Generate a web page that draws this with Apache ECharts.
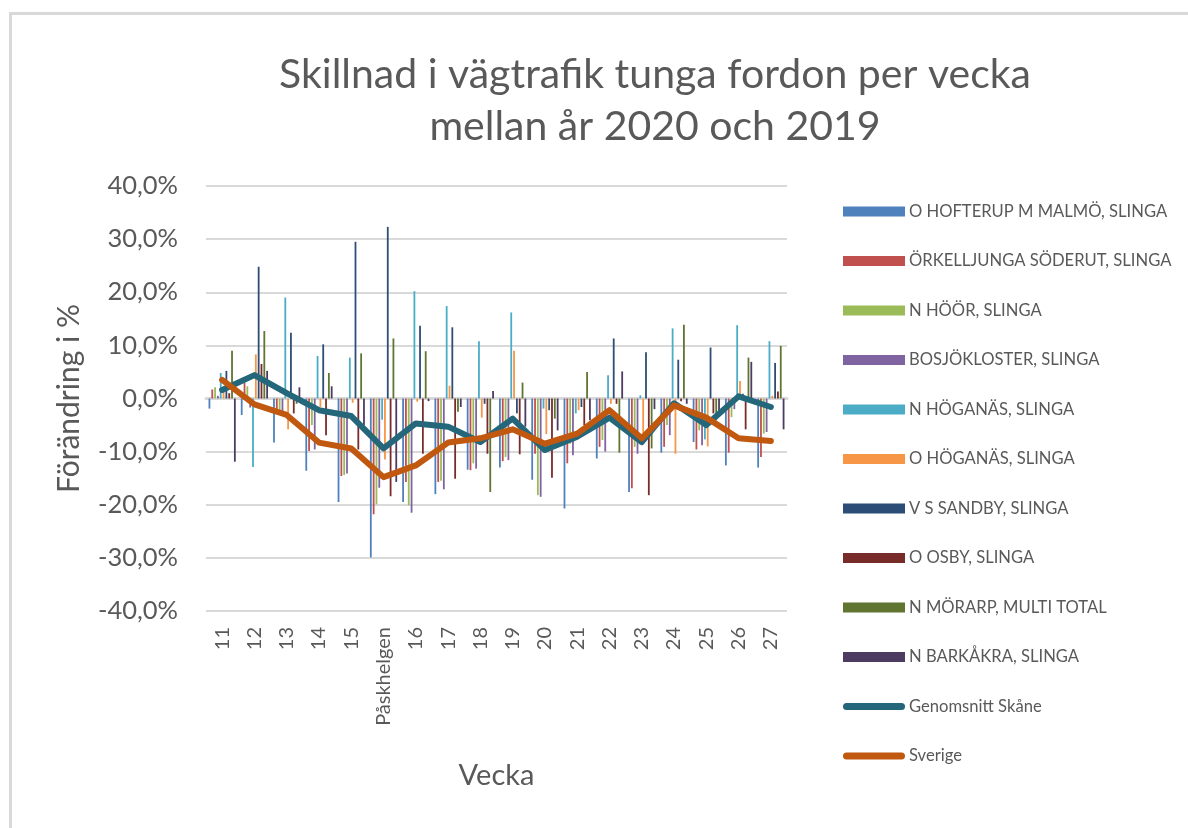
<!DOCTYPE html>
<html>
<head>
<meta charset="utf-8">
<script src="https://cdn.jsdelivr.net/npm/echarts@6/dist/echarts.min.js"></script>
<style>html,body{margin:0;padding:0;background:#fff}#c{width:1188px;height:828px}</style>
</head>
<body>
<div id="c"></div>
<script>
const categories = ['11','12','13','14','15','Påskhelgen','16','17','18','19','20','21','22','23','24','25','26','27'];
const seriesNames = ['O HOFTERUP M MALMÖ, SLINGA','ÖRKELLJUNGA SÖDERUT, SLINGA','N HÖÖR, SLINGA','BOSJÖKLOSTER, SLINGA','N HÖGANÄS, SLINGA','O HÖGANÄS, SLINGA','V S SANDBY, SLINGA','O OSBY, SLINGA','N MÖRARP, MULTI TOTAL','N BARKÅKRA, SLINGA'];
const hofterup    = [-1.9, -3.1, -8.3, -13.6, -19.5, -29.9, -19.5, -18.0, -13.4, -13.0, -15.3, -20.7, -11.3, -17.6, -10.2, -8.2, -12.6, -13.0];
const orkelljunga = [1.7, 3.0, -2.5, -9.9, -14.6, -21.8, -15.7, -15.7, -13.5, -11.8, -10.4, -12.2, -9.1, -16.9, -9.1, -9.6, -10.2, -11.0];
const hoor        = [2.1, 2.3, -2.5, -5.0, -14.4, -19.9, -20.1, -15.5, -12.2, -11.0, -18.2, -8.5, -7.8, -9.1, -5.0, -6.0, -3.5, -6.6];
const bosjokloster= [0.5, -1.7, -2.5, -9.6, -14.1, -16.8, -21.5, -17.1, -13.2, -11.6, -18.5, -10.7, -10.0, -10.4, -6.9, -8.8, -2.0, -6.3];
const nHoganas    = [4.8, -12.9, 19.0, 8.0, 7.7, -4.0, 20.2, 17.4, 10.8, 16.2, -1.9, -2.8, 4.4, 0.6, 13.2, -7.7, 13.8, 10.8];
const oHoganas    = [1.5, 8.3, -5.8, -1.6, -0.8, -11.5, -0.6, 2.4, -3.6, 9.0, -6.7, -2.2, -1.0, -6.6, -10.4, -9.0, 3.3, 0.5];
const sandby      = [5.2, 24.8, 12.4, 10.2, 29.5, 32.3, 13.7, 13.4, -1.0, -2.8, -2.2, -1.6, 11.3, 8.7, 7.3, 9.6, 0.9, 6.7];
const osby        = [1.0, 6.5, -2.8, -6.9, -9.6, -18.4, -10.4, -15.1, -10.4, -10.5, -14.9, -5.0, -1.0, -18.2, -0.5, -2.8, -5.8, 1.3];
const morarp      = [9.0, 12.7, -1.0, 4.8, 8.5, 11.3, 8.9, -2.5, -17.6, 3.0, -3.8, 5.0, -10.2, -9.4, 13.9, -4.1, 7.7, 9.9];
const barkakra    = [-11.9, 5.2, 2.1, 2.3, -5.0, -15.7, -0.5, -1.6, 1.4, -5.3, -6.0, -4.1, 5.1, -2.0, -1.0, -2.8, 6.9, -5.8];
const skane       = [1.6, 4.4, 1.0, -2.2, -3.3, -9.4, -4.7, -5.3, -8.2, -3.8, -9.7, -7.2, -3.6, -8.2, -0.9, -5.0, 0.4, -1.6];
const sverige     = [3.5, -1.1, -3.1, -8.3, -9.4, -14.8, -12.6, -8.3, -7.5, -5.8, -8.5, -6.6, -2.2, -7.5, -1.3, -3.6, -7.5, -8.0];
const yTicks = { min: -40, max: 40, interval: 10 };

const barData = [hofterup, orkelljunga, hoor, bosjokloster, nHoganas, oHoganas, sandby, osby, morarp, barkakra];
const barColors = ['#4F81BD','#C0504D','#9BBB59','#8064A2','#4BACC6','#F79646','#2C4D75','#772C2A','#5F7530','#4D3B62'];
const FONT = 'Lato, "Open Sans", sans-serif';
const TXT = '#595959';
const LINE_ICON = 'path://M3.5,0 L58.5,0 A3.5,3.5 0 0 1 58.5,7 L3.5,7 A3.5,3.5 0 0 1 3.5,0 Z';

const series = barData.map((d, i) => ({
  name: seriesNames[i], type: 'bar', data: d, xAxisIndex: 0,
  barWidth: 1.8, barGap: '57%',
  itemStyle: { color: barColors[i] }
}));
series.push({
  name: 'Genomsnitt Skåne', type: 'line', data: skane, symbol: 'none', showSymbol: false, z: 5,
  lineStyle: { color: '#24677A', width: 6, cap: 'round', join: 'round' },
  itemStyle: { color: '#24677A' }
});
series.push({
  name: 'Sverige', type: 'line', data: sverige, symbol: 'none', showSymbol: false, z: 6,
  lineStyle: { color: '#C0580F', width: 6, cap: 'round', join: 'round' },
  itemStyle: { color: '#C0580F' }
});

const chart = echarts.init(document.getElementById('c'), null, { renderer: 'canvas' });
chart.setOption({
  animation: false,
  backgroundColor: '#fff',
  title: {
    text: 'Skillnad i vägtrafik tunga fordon per vecka\nmellan år 2020 och 2019',
    left: 650, top: 44, textAlign: 'center',
    textStyle: { fontFamily: FONT, fontSize: 41, fontWeight: 'normal', color: TXT, lineHeight: 52 }
  },
  graphic: [{
    type: 'rect', left: 8, top: 11, shape: { width: 1300, height: 1000 },
    style: { fill: 'none', stroke: '#d9d9d9', lineWidth: 3 }, silent: true, z: -1
  }],
  legend: {
    orient: 'vertical', left: 838, top: 198,
    itemWidth: 62, itemHeight: 10, itemGap: 32.5,
    data: seriesNames.map(n => ({ name: n, icon: 'rect' })).concat([
      { name: 'Genomsnitt Skåne', icon: LINE_ICON, itemStyle: { color: '#24677A' } },
      { name: 'Sverige', icon: LINE_ICON, itemStyle: { color: '#C0580F' } }
    ]),
    textStyle: { fontFamily: FONT, fontSize: 16.6, color: TXT, lineHeight: 17, padding: [0, 0, 0, -1] }
  },
  grid: { left: 206, right: 401, top: 186, bottom: 217, containLabel: false },
  xAxis: [{
    type: 'category', data: categories, position: 'bottom',
    name: 'Vecka', nameLocation: 'middle', nameGap: 150,
    nameTextStyle: { fontFamily: FONT, fontSize: 29, color: TXT },
    axisLine: { show: false, onZero: false }, axisTick: { show: false },
    axisLabel: { rotate: 90, fontFamily: FONT, fontSize: 20, color: TXT, margin: 16, interval: 0 }
  }, {
    type: 'category', data: categories, position: 'bottom',
    axisLine: { show: true, onZero: true, lineStyle: { color: '#d9d9d9', width: 3 } },
    axisTick: { show: false }, axisLabel: { show: false }, splitLine: { show: false }
  }],
  yAxis: {
    type: 'value', min: yTicks.min, max: yTicks.max, interval: yTicks.interval,
    name: 'Förändring i %', nameLocation: 'middle', nameGap: 122, nameRotate: 90,
    nameTextStyle: { fontFamily: FONT, fontSize: 30, color: TXT },
    axisLine: { show: false }, axisTick: { show: false },
    axisLabel: { fontFamily: FONT, fontSize: 25.5, color: TXT, margin: 28,
      formatter: v => v.toFixed(1).replace('.', ',') + '%' },
    splitLine: { lineStyle: { color: '#d9d9d9', width: 2 } }
  },
  series: series
});
</script>
</body>
</html>
